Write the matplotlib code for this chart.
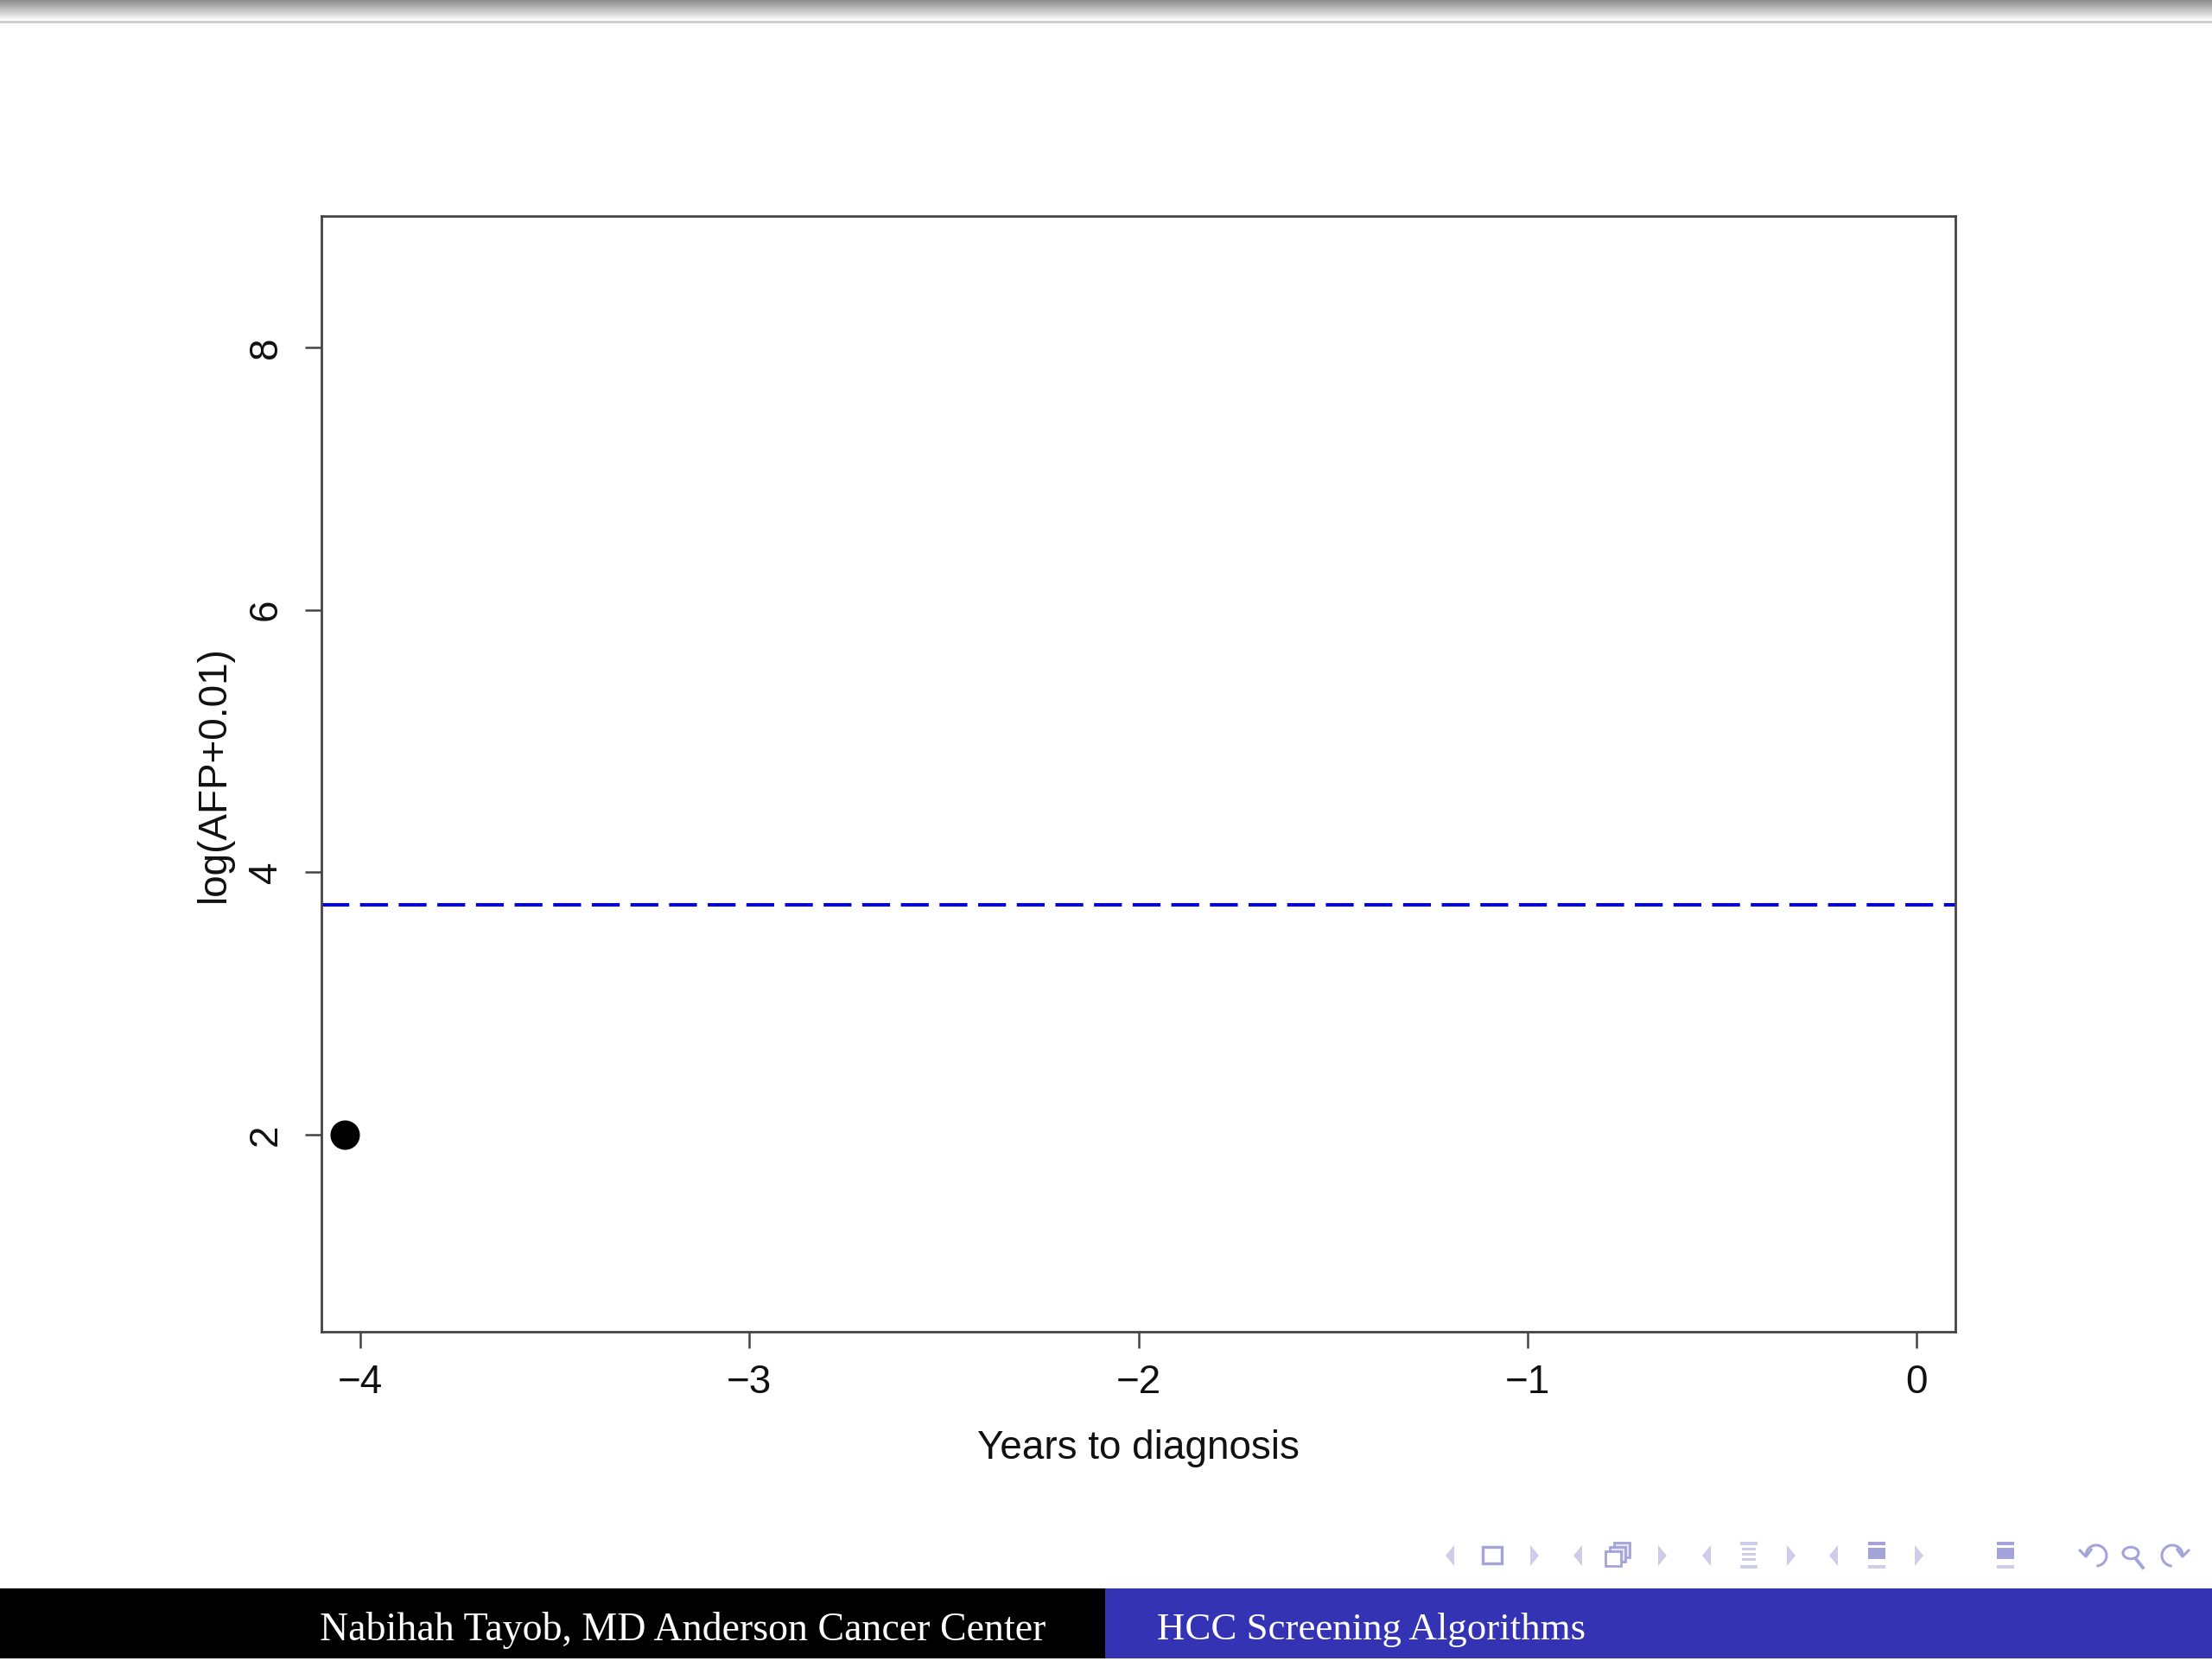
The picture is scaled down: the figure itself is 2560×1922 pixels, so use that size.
import numpy as np
import matplotlib
matplotlib.use("Agg")
import matplotlib.pyplot as plt
from matplotlib.patches import Rectangle, Polygon, Circle, Arc
from matplotlib.lines import Line2D

# ---- data ----
years_to_diagnosis = [-4.04]
log_afp = [2.0]
threshold = [3.75]
x_ticks = [-4, -3, -2, -1, 0]
y_ticks = [2, 4, 6, 8]
x_label = "Years to diagnosis"
y_label = "log(AFP+0.01)"
footer_left = "Nabihah Tayob, MD Anderson Cancer Center"
footer_right = "HCC Screening Algorithms"

W, H = 2560, 1922
DPI = 100
fig = plt.figure(figsize=(W / DPI, H / DPI), dpi=DPI)
fig.patch.set_facecolor("white")

def fx(px):
    return px / W

def fy(py):
    return 1 - py / H

sans = ["Liberation Sans", "DejaVu Sans"]
serif = ["Liberation Serif", "DejaVu Serif"]

# ---- top gradient bar ----
gax = fig.add_axes([0, fy(23), 1, 23 / H])
grad = np.linspace(0.55, 0.98, 64).reshape(-1, 1)
gax.imshow(grad, aspect="auto", cmap="gray", vmin=0, vmax=1, extent=[0, 1, 1, 0])
gax.axis("off")
fig.add_artist(Rectangle((0, fy(27)), 1, 3 / H, transform=fig.transFigure,
                         facecolor="#cfcfcf", edgecolor="none"))

# ---- main axes ----
left, right, top, bottom = 372, 2263, 250, 1541
ax = fig.add_axes([fx(left), fy(bottom), fx(right - left), (bottom - top) / H])
ax.set_xlim(-4.1, 0.1)
ax.set_ylim(0.5, 9.0)

ax.plot(years_to_diagnosis, log_afp, "o", color="black", markersize=23.5, zorder=3)
hl = ax.axhline(threshold[0], color="#0000ee", lw=2.9)
hl.set_dashes((8, 3.1))

for s in ax.spines.values():
    s.set_linewidth(2.0)
    s.set_color("#444444")

ax.set_xticks(x_ticks)
ax.set_xticklabels(["\u22124", "\u22123", "\u22122", "\u22121", "0"])
ax.set_yticks(y_ticks)
ax.set_yticklabels([str(v) for v in y_ticks], rotation=90, va="center")
ax.tick_params(axis="both", direction="out", length=13.5, width=1.8,
               color="#444444", labelsize=33, labelcolor="#111111")
ax.tick_params(axis="x", pad=13.5)
ax.tick_params(axis="y", pad=17)
for lab in ax.get_xticklabels() + ax.get_yticklabels():
    lab.set_family(sans)

ax.set_xlabel(x_label, fontsize=33, family=sans, color="#111111", va="center")
ax.xaxis.set_label_coords(0.5, (bottom - 1676) / (bottom - top))
ax.set_ylabel(y_label, fontsize=33, family=sans, color="#111111", va="center")
ax.yaxis.set_label_coords((248 - left) / (right - left), 0.5)

# ---- footer ----
fig.add_artist(Rectangle((0, fy(1919)), fx(1279), (1919 - 1838) / H,
                         transform=fig.transFigure, facecolor="black", edgecolor="none"))
fig.add_artist(Rectangle((fx(1279), fy(1919)), 1 - fx(1279), (1919 - 1838) / H,
                         transform=fig.transFigure, facecolor="#3333b3", edgecolor="none"))
fig.text(fx(1210), fy(1886), footer_left, ha="right", va="center", color="white",
         fontsize=33, family=serif)
fig.text(fx(1339), fy(1886), footer_right, ha="left", va="center", color="white",
         fontsize=32.3, family=serif)

# ---- navigation symbols ----
light = "#cdcdea"
mid = "#a4a4da"
cy = 1800

def tri(cx, direction):
    w, h = 10, 24
    if direction < 0:
        pts = [(cx + w / 2, cy - h / 2), (cx + w / 2, cy + h / 2), (cx - w / 2, cy)]
    else:
        pts = [(cx - w / 2, cy - h / 2), (cx - w / 2, cy + h / 2), (cx + w / 2, cy)]
    fig.add_artist(Polygon([(fx(a), fy(b)) for a, b in pts], closed=True,
                           transform=fig.transFigure, facecolor=light, edgecolor="none"))

def rect(x0, y0, w, h, fc, ec=None, lw=0):
    fig.add_artist(Rectangle((fx(x0), fy(y0 + h)), w / W, h / H, transform=fig.transFigure,
                             facecolor=fc, edgecolor=ec if ec else "none", linewidth=lw))

def lines_icon(cx, filled):
    rect(cx - 10, cy - 16, 20, 4, mid if filled else light)
    if filled:
        rect(cx - 10, cy - 9, 20, 13, mid)
    else:
        rect(cx - 8, cy - 9, 16, 3, light)
        rect(cx - 8, cy - 3, 16, 3, light)
        rect(cx - 8, cy + 3, 16, 3, light)
    rect(cx - 10, cy + 11, 20, 4, light)

tri(1678, -1)
rect(1716, cy - 10, 22, 19, "white", mid, 2.4)
tri(1776, 1)
tri(1826, -1)
rect(1868, cy - 15, 18, 17, "#e4e4f4", mid, 2.0)
rect(1863, cy - 10, 18, 17, "#e4e4f4", mid, 2.0)
rect(1858, cy - 5, 18, 17, "white", mid, 2.0)
tri(1924, 1)
tri(1975, -1)
lines_icon(2024, False)
tri(2073, 1)
tri(2122, -1)
lines_icon(2172, True)
tri(2221, 1)
lines_icon(2321, True)

# undo / find / redo
t = np.linspace(-0.45 * np.pi, 0.95 * np.pi, 40)
ux = 2426 + 12 * np.cos(t)
uy = cy - 12 * np.sin(t)
fig.add_artist(Line2D(fx(ux), fy(uy), transform=fig.transFigure, color=mid, lw=2.2))
fig.add_artist(Line2D(fx(np.array([ux[-1] - 7, ux[-1], ux[-1] + 6])),
                      fy(np.array([uy[-1] - 4, uy[-1] + 3, uy[-1] - 5])),
                      transform=fig.transFigure, color=mid, lw=2.2))
fig.add_artist(Circle((fx(2466), fy(cy - 3)), 9 / W, transform=fig.transFigure,
                      facecolor="none", edgecolor=mid, lw=2.2))
fig.add_artist(Line2D([fx(2472), fx(2480)], [fy(cy + 4), fy(cy + 14)],
                      transform=fig.transFigure, color=mid, lw=2.8))
rx = 2514 - 12 * np.cos(t)
ry = cy - 12 * np.sin(t)
fig.add_artist(Line2D(fx(rx), fy(ry), transform=fig.transFigure, color=mid, lw=2.2))
fig.add_artist(Line2D(fx(np.array([rx[-1] + 7, rx[-1], rx[-1] - 6])),
                      fy(np.array([ry[-1] - 4, ry[-1] + 3, ry[-1] - 5])),
                      transform=fig.transFigure, color=mid, lw=2.2))

fig.savefig("out.png", dpi=DPI, facecolor="white")
